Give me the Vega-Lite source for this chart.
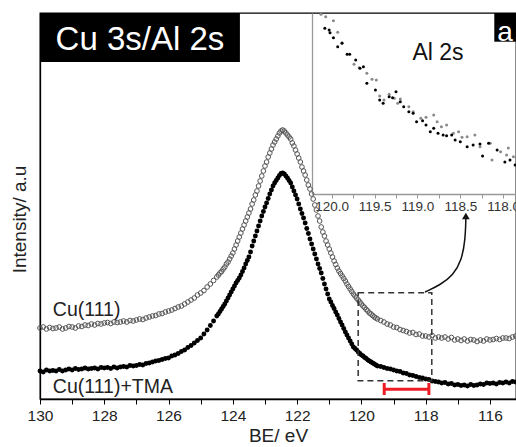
{
"$schema":"https://vega.github.io/schema/vega-lite/v6.json",
"width":476,"height":386,
"autosize":"none",
"padding":{"left":40,"top":13,"right":0,"bottom":48},
"background":"white",
"config":{"font":"Liberation Sans","view":{"stroke":"#000","strokeWidth":1.3},"axis":{"grid":false}},
"datasets":{
"cu":[{"x":130.0,"y":71},{"x":129.9,"y":72},{"x":129.8,"y":70},{"x":129.7,"y":71.5},{"x":129.6,"y":70.5},{"x":129.5,"y":71},{"x":129.4,"y":72},{"x":129.3,"y":70},{"x":129.2,"y":71},{"x":129.1,"y":72.5},{"x":129.0,"y":72},{"x":128.9,"y":71},{"x":128.8,"y":73},{"x":128.7,"y":72.5},{"x":128.6,"y":74},{"x":128.5,"y":73.5},{"x":128.4,"y":75},{"x":128.3,"y":74},{"x":128.2,"y":75.5},{"x":128.1,"y":75},{"x":128.0,"y":76},{"x":127.9,"y":76.5},{"x":127.8,"y":75.5},{"x":127.7,"y":77},{"x":127.6,"y":76.5},{"x":127.5,"y":77},{"x":127.4,"y":78},{"x":127.3,"y":77},{"x":127.2,"y":78.5},{"x":127.1,"y":78},{"x":127.0,"y":79},{"x":126.9,"y":80},{"x":126.8,"y":79.5},{"x":126.7,"y":81},{"x":126.6,"y":82},{"x":126.5,"y":83},{"x":126.4,"y":83.5},{"x":126.3,"y":85},{"x":126.2,"y":85.5},{"x":126.1,"y":87},{"x":126.0,"y":88},{"x":125.9,"y":89},{"x":125.8,"y":90.5},{"x":125.7,"y":92},{"x":125.6,"y":93},{"x":125.5,"y":95},{"x":125.4,"y":97},{"x":125.3,"y":99},{"x":125.2,"y":101},{"x":125.1,"y":104},{"x":125.0,"y":106},{"x":124.9,"y":108.5},{"x":124.8,"y":112},{"x":124.7,"y":115},{"x":124.6,"y":118.5},
{"x":124.5,"y":122},{"x":124.45,"y":124},{"x":124.4,"y":126},{"x":124.35,"y":127.5},{"x":124.3,"y":130},{"x":124.25,"y":132},{"x":124.2,"y":135},{"x":124.15,"y":137},{"x":124.1,"y":140},{"x":124.05,"y":143},{"x":124.0,"y":146},{"x":123.95,"y":150},{"x":123.9,"y":154},{"x":123.85,"y":158},{"x":123.8,"y":162},{"x":123.75,"y":166},{"x":123.7,"y":170},{"x":123.65,"y":174},{"x":123.6,"y":178},{"x":123.55,"y":182},{"x":123.5,"y":186},{"x":123.45,"y":190},{"x":123.4,"y":195},{"x":123.35,"y":199},{"x":123.3,"y":204},{"x":123.25,"y":208},{"x":123.2,"y":213},{"x":123.15,"y":218},{"x":123.1,"y":223},{"x":123.05,"y":228},{"x":123.0,"y":233},{"x":122.95,"y":237},{"x":122.9,"y":242},{"x":122.85,"y":246},{"x":122.8,"y":250},{"x":122.75,"y":254},{"x":122.7,"y":257},{"x":122.65,"y":260},{"x":122.6,"y":263},{"x":122.55,"y":266},{"x":122.5,"y":268},{"x":122.45,"y":269},{"x":122.4,"y":268},{"x":122.35,"y":266},{"x":122.3,"y":264},{"x":122.25,"y":262},{"x":122.2,"y":260},{"x":122.15,"y":256},{"x":122.1,"y":253},{"x":122.05,"y":249},{"x":122.0,"y":245},{"x":121.95,"y":241},{"x":121.9,"y":237},{"x":121.85,"y":232},{"x":121.8,"y":228},{"x":121.75,"y":224},{"x":121.7,"y":219},{"x":121.65,"y":214},{"x":121.6,"y":210},{"x":121.55,"y":205},{"x":121.5,"y":200},{"x":121.45,"y":194},{"x":121.4,"y":189},{"x":121.35,"y":183},{"x":121.3,"y":178},{"x":121.25,"y":172},{"x":121.2,"y":167},{"x":121.15,"y":163},{"x":121.1,"y":158},{"x":121.05,"y":154},{"x":121.0,"y":150},{"x":120.95,"y":146},{"x":120.9,"y":142},{"x":120.85,"y":138},{"x":120.8,"y":134.5},{"x":120.75,"y":131},{"x":120.7,"y":128},{"x":120.65,"y":125.5},{"x":120.6,"y":123},{"x":120.55,"y":120.5},{"x":120.5,"y":118},{"x":120.45,"y":115},{"x":120.4,"y":112.5},{"x":120.35,"y":110},{"x":120.3,"y":107.5},{"x":120.25,"y":105},{"x":120.2,"y":103},{"x":120.15,"y":101},{"x":120.1,"y":99},{"x":120.05,"y":97},{"x":120.0,"y":95},{"x":119.95,"y":93},{"x":119.9,"y":91.5},{"x":119.85,"y":89.5},{"x":119.8,"y":88},{"x":119.75,"y":86},{"x":119.7,"y":85},{"x":119.65,"y":83.5},{"x":119.6,"y":82},{"x":119.55,"y":81},
{"x":119.5,"y":80},{"x":119.4,"y":78.5},{"x":119.3,"y":77},{"x":119.2,"y":75},{"x":119.1,"y":74},{"x":119.0,"y":72},{"x":118.9,"y":71.5},{"x":118.8,"y":69.5},{"x":118.7,"y":68.5},{"x":118.6,"y":67.5},{"x":118.5,"y":66},{"x":118.4,"y":66.5},{"x":118.3,"y":64.5},{"x":118.2,"y":65},{"x":118.1,"y":63},{"x":118.0,"y":63},{"x":117.9,"y":62},{"x":117.8,"y":63.5},{"x":117.7,"y":61},{"x":117.6,"y":62},{"x":117.5,"y":61},{"x":117.4,"y":62},{"x":117.3,"y":60},{"x":117.2,"y":61.5},{"x":117.1,"y":59},{"x":117.0,"y":60},{"x":116.9,"y":58.5},{"x":116.8,"y":60},{"x":116.7,"y":58},{"x":116.6,"y":59.5},{"x":116.5,"y":59},{"x":116.4,"y":57.5},{"x":116.3,"y":59},{"x":116.2,"y":58},{"x":116.1,"y":60},{"x":116.0,"y":59},{"x":115.9,"y":59.5},{"x":115.8,"y":60.5},{"x":115.7,"y":59.5},{"x":115.6,"y":61},{"x":115.5,"y":61},{"x":115.4,"y":60.5},{"x":115.3,"y":62},{"x":115.2,"y":63}],
"tma":[{"x":130.0,"y":28},{"x":129.9,"y":27},{"x":129.8,"y":29},{"x":129.7,"y":28},{"x":129.6,"y":28.5},{"x":129.5,"y":28},{"x":129.4,"y":29.5},{"x":129.3,"y":28},{"x":129.2,"y":29},{"x":129.1,"y":30},{"x":129.0,"y":29},{"x":128.9,"y":30.5},{"x":128.8,"y":29.5},{"x":128.7,"y":30},{"x":128.6,"y":31},{"x":128.5,"y":30},{"x":128.4,"y":30.5},{"x":128.3,"y":31},{"x":128.2,"y":30},{"x":128.1,"y":31.5},{"x":128.0,"y":31},{"x":127.9,"y":31.5},{"x":127.8,"y":30.5},{"x":127.7,"y":32},{"x":127.6,"y":31},{"x":127.5,"y":32},{"x":127.4,"y":32.5},{"x":127.3,"y":32},{"x":127.2,"y":33.5},{"x":127.1,"y":33},{"x":127.0,"y":33.5},{"x":126.9,"y":34.5},{"x":126.8,"y":34},{"x":126.7,"y":35.5},{"x":126.6,"y":36},{"x":126.5,"y":37},{"x":126.4,"y":38},{"x":126.3,"y":38.5},{"x":126.2,"y":39.5},{"x":126.1,"y":40.5},{"x":126.0,"y":41},{"x":125.9,"y":43},{"x":125.8,"y":44},{"x":125.7,"y":45.5},{"x":125.6,"y":47.5},{"x":125.5,"y":49},{"x":125.4,"y":51.5},{"x":125.3,"y":53.5},{"x":125.2,"y":56},{"x":125.1,"y":58.5},{"x":125.0,"y":61},{"x":124.9,"y":65},{"x":124.8,"y":69},{"x":124.7,"y":73.5},{"x":124.6,"y":78},
{"x":124.5,"y":83},{"x":124.45,"y":85},{"x":124.4,"y":87.5},{"x":124.35,"y":90},{"x":124.3,"y":92.5},{"x":124.25,"y":95},{"x":124.2,"y":98},{"x":124.15,"y":101},{"x":124.1,"y":104},{"x":124.05,"y":107},{"x":124.0,"y":110},{"x":123.95,"y":113},{"x":123.9,"y":116},{"x":123.85,"y":118.5},{"x":123.8,"y":121},{"x":123.75,"y":124},{"x":123.7,"y":127.5},{"x":123.65,"y":131},{"x":123.6,"y":135},{"x":123.55,"y":138.5},{"x":123.5,"y":142},{"x":123.45,"y":147},{"x":123.4,"y":153},{"x":123.35,"y":158},{"x":123.3,"y":163},{"x":123.25,"y":168},{"x":123.2,"y":173},{"x":123.15,"y":178},{"x":123.1,"y":183},{"x":123.05,"y":187.5},{"x":123.0,"y":192},{"x":122.95,"y":196},{"x":122.9,"y":200.5},{"x":122.85,"y":205},{"x":122.8,"y":209},{"x":122.75,"y":213},{"x":122.7,"y":216},{"x":122.65,"y":218.5},{"x":122.6,"y":221},{"x":122.55,"y":223.5},{"x":122.5,"y":225.5},{"x":122.45,"y":226},{"x":122.4,"y":225},{"x":122.35,"y":223},{"x":122.3,"y":221},{"x":122.25,"y":218.5},{"x":122.2,"y":216},{"x":122.15,"y":212},{"x":122.1,"y":208},{"x":122.05,"y":204},{"x":122.0,"y":200},{"x":121.95,"y":195},{"x":121.9,"y":190},{"x":121.85,"y":185.5},{"x":121.8,"y":181},{"x":121.75,"y":176},{"x":121.7,"y":170.5},{"x":121.65,"y":165.5},{"x":121.6,"y":160},{"x":121.55,"y":155},{"x":121.5,"y":150},{"x":121.45,"y":145},{"x":121.4,"y":140},{"x":121.35,"y":135},{"x":121.3,"y":130.5},{"x":121.25,"y":126},{"x":121.2,"y":120.5},{"x":121.15,"y":115},{"x":121.1,"y":110},{"x":121.05,"y":105},{"x":121.0,"y":100},{"x":120.95,"y":97},{"x":120.9,"y":93.5},{"x":120.85,"y":90.5},{"x":120.8,"y":87},{"x":120.75,"y":84},{"x":120.7,"y":80.5},{"x":120.65,"y":77},{"x":120.6,"y":74},{"x":120.55,"y":70.5},{"x":120.5,"y":67},{"x":120.45,"y":64},{"x":120.4,"y":61},{"x":120.35,"y":58},{"x":120.3,"y":55},{"x":120.25,"y":52},{"x":120.2,"y":50.5},{"x":120.15,"y":49},{"x":120.1,"y":47},{"x":120.05,"y":45.5},{"x":120.0,"y":44},{"x":119.95,"y":43},{"x":119.9,"y":41.5},{"x":119.85,"y":40.5},{"x":119.8,"y":39},{"x":119.75,"y":38},{"x":119.7,"y":37},{"x":119.65,"y":36},{"x":119.6,"y":35},{"x":119.55,"y":34},
{"x":119.5,"y":33},{"x":119.4,"y":32.5},{"x":119.3,"y":31.5},{"x":119.2,"y":30.5},{"x":119.1,"y":30},{"x":119.0,"y":29},{"x":118.9,"y":28},{"x":118.8,"y":27.5},{"x":118.7,"y":26},{"x":118.6,"y":25.5},{"x":118.5,"y":24},{"x":118.4,"y":23.5},{"x":118.3,"y":22.5},{"x":118.2,"y":21.5},{"x":118.1,"y":21},{"x":118.0,"y":20},{"x":117.9,"y":19.5},{"x":117.8,"y":18},{"x":117.7,"y":17.5},{"x":117.6,"y":17},{"x":117.5,"y":16},{"x":117.4,"y":16.5},{"x":117.3,"y":15},{"x":117.2,"y":15.5},{"x":117.1,"y":14},{"x":117.0,"y":14.5},{"x":116.9,"y":13.5},{"x":116.8,"y":14},{"x":116.7,"y":13},{"x":116.6,"y":14.5},{"x":116.5,"y":13.5},{"x":116.4,"y":14},{"x":116.3,"y":15},{"x":116.2,"y":14.5},{"x":116.1,"y":16},{"x":116.0,"y":15.5},{"x":115.9,"y":16},{"x":115.8,"y":15},{"x":115.7,"y":16.5},{"x":115.6,"y":16},{"x":115.5,"y":17},{"x":115.4,"y":16},{"x":115.3,"y":17.5},{"x":115.2,"y":17}],
"inset":[{"s":"cu","x":120.125,"y":179.7},{"s":"cu","x":120.07,"y":177.3},{"s":"cu","x":119.98,"y":173.3},{"s":"cu","x":119.93,"y":161.7},{"s":"cu","x":119.88,"y":151.3},{"s":"cu","x":119.74,"y":129.7},{"s":"cu","x":119.68,"y":126.3},{"s":"cu","x":119.59,"y":120.7},{"s":"cu","x":119.53,"y":114.7},{"s":"cu","x":119.48,"y":114},{"s":"cu","x":119.44,"y":98},{"s":"cu","x":119.39,"y":94},{"s":"cu","x":119.33,"y":99.7},{"s":"cu","x":119.27,"y":95.7},{"s":"cu","x":119.23,"y":90.7},{"s":"cu","x":119.2,"y":95},{"s":"cu","x":119.1,"y":87.3},{"s":"cu","x":119.05,"y":82.3},{"s":"cu","x":118.96,"y":75.7},{"s":"cu","x":118.9,"y":76.7},{"s":"cu","x":118.81,"y":79},{"s":"cu","x":118.77,"y":72.3},{"s":"cu","x":118.72,"y":67.3},{"s":"cu","x":118.66,"y":69},{"s":"cu","x":118.58,"y":60.7},{"s":"cu","x":118.52,"y":62.3},{"s":"cu","x":118.48,"y":56.7},{"s":"cu","x":118.42,"y":57.3},{"s":"cu","x":118.33,"y":59},{"s":"cu","x":118.27,"y":47.3},{"s":"cu","x":118.15,"y":50.7},{"s":"cu","x":118.13,"y":34},{"s":"cu","x":118.03,"y":42.3},{"s":"cu","x":117.94,"y":46},{"s":"cu","x":117.96,"y":39},{"s":"cu","x":117.88,"y":37.3},
{"s":"tma","x":120.08,"y":165.7},{"s":"tma","x":120.03,"y":164},{"s":"tma","x":120.02,"y":161.3},{"s":"tma","x":119.98,"y":156.3},{"s":"tma","x":119.93,"y":147.3},{"s":"tma","x":119.88,"y":150.7},{"s":"tma","x":119.82,"y":139.7},{"s":"tma","x":119.79,"y":139.7},{"s":"tma","x":119.72,"y":134},{"s":"tma","x":119.67,"y":125.7},{"s":"tma","x":119.63,"y":127.3},{"s":"tma","x":119.59,"y":110.7},{"s":"tma","x":119.49,"y":104},{"s":"tma","x":119.44,"y":94},{"s":"tma","x":119.4,"y":90.7},{"s":"tma","x":119.33,"y":97.3},{"s":"tma","x":119.29,"y":96.3},{"s":"tma","x":119.25,"y":102.3},{"s":"tma","x":119.2,"y":92.3},{"s":"tma","x":119.16,"y":87.3},{"s":"tma","x":119.1,"y":82.3},{"s":"tma","x":119.05,"y":80.7},{"s":"tma","x":119.01,"y":72.3},{"s":"tma","x":118.94,"y":73.3},{"s":"tma","x":118.9,"y":69},{"s":"tma","x":118.85,"y":62.3},{"s":"tma","x":118.81,"y":65.7},{"s":"tma","x":118.76,"y":60.7},{"s":"tma","x":118.7,"y":59},{"s":"tma","x":118.66,"y":58.3},{"s":"tma","x":118.6,"y":59},{"s":"tma","x":118.56,"y":54},{"s":"tma","x":118.5,"y":52.3},{"s":"tma","x":118.42,"y":47.3},{"s":"tma","x":118.35,"y":49},{"s":"tma","x":118.27,"y":50},{"s":"tma","x":118.24,"y":38},{"s":"tma","x":118.17,"y":50.7},{"s":"tma","x":118.07,"y":44},{"s":"tma","x":117.98,"y":32},{"s":"tma","x":117.92,"y":34},{"s":"tma","x":117.86,"y":29}],
"arrow":[{"o":1,"x":118.02,"y":107},{"o":2,"x":117.55,"y":114},{"o":3,"x":117.14,"y":124},{"o":4,"x":116.88,"y":139},{"o":5,"x":116.77,"y":159},{"o":6,"x":116.75,"y":180}],
"caps":[{"x":119.29},{"x":117.9}]
},
"layer":[
 {"data":{"name":"cu"},
  "mark":{"type":"point","shape":"circle","filled":false,"stroke":"#555","strokeWidth":1,"size":22,"opacity":1},
  "encoding":{
   "x":{"field":"x","type":"quantitative","scale":{"domain":[115.19,130],"reverse":true,"nice":false,"zero":false},
        "axis":{"orient":"bottom","title":"BE/ eV","values":[130,129,128,127,126,125,124,123,122,121,120,119,118,117,116],"labelExpr":"datum.value % 2 == 0 ? datum.label : ''","labelOverlap":false,"labelFlush":false,"labelFontSize":15.5,"labelColor":"#222","labelPadding":4,"tickSize":5,"tickColor":"#000","domainColor":"#000","domainWidth":1.3,"titleFontSize":19,"titleFontWeight":"normal","titleColor":"#222","titlePadding":3}},
   "y":{"field":"y","type":"quantitative","scale":{"domain":[0,386],"nice":false,"zero":false},
        "axis":{"orient":"left","title":"Intensity/ a.u","ticks":false,"labels":false,"domainColor":"#000","domainWidth":1.3,"titleFontSize":19,"titleFontWeight":"normal","titleColor":"#222","titlePadding":11,"titleY":206}}
  }},
 {"data":{"name":"tma"},
  "mark":{"type":"circle","color":"#000","size":24,"opacity":1},
  "encoding":{"x":{"field":"x","type":"quantitative","scale":{"domain":[115.19,130],"reverse":true,"nice":false,"zero":false},"axis":null},"y":{"field":"y","type":"quantitative","scale":{"domain":[0,386],"nice":false,"zero":false},"axis":null}}},
 {"data":{"values":[{}]},
  "mark":{"type":"rect","fillOpacity":0,"stroke":"#333","strokeDash":[6,4],"strokeWidth":1.5},
  "encoding":{"x":{"datum":120.1,"type":"quantitative","scale":{"domain":[115.19,130],"reverse":true,"nice":false,"zero":false},"axis":null},"x2":{"datum":117.81},"y":{"datum":106.3,"type":"quantitative","scale":{"domain":[0,386],"nice":false,"zero":false},"axis":null},"y2":{"datum":18.3}}},
 {"data":{"values":[{}]},
  "mark":{"type":"rule","color":"#ed1c24","strokeWidth":3},
  "encoding":{"x":{"datum":119.29,"type":"quantitative","scale":{"domain":[115.19,130],"reverse":true,"nice":false,"zero":false},"axis":null},"x2":{"datum":117.9},"y":{"datum":9.7,"type":"quantitative","scale":{"domain":[0,386],"nice":false,"zero":false},"axis":null}}},
 {"data":{"name":"caps"},
  "mark":{"type":"rule","color":"#ed1c24","strokeWidth":3},
  "encoding":{"x":{"field":"x","type":"quantitative","scale":{"domain":[115.19,130],"reverse":true,"nice":false,"zero":false},"axis":null},"y":{"datum":4,"type":"quantitative","scale":{"domain":[0,386],"nice":false,"zero":false},"axis":null},"y2":{"datum":16}}},
 {"data":{"name":"arrow"},
  "mark":{"type":"line","interpolate":"basis","color":"#111","strokeWidth":1.5},
  "encoding":{"x":{"field":"x","type":"quantitative","scale":{"domain":[115.19,130],"reverse":true,"nice":false,"zero":false},"axis":null},"y":{"field":"y","type":"quantitative","scale":{"domain":[0,386],"nice":false,"zero":false},"axis":null},"order":{"field":"o"}}},
 {"data":{"values":[{}]},
  "mark":{"type":"point","shape":"triangle-up","filled":true,"color":"#111","size":60,"opacity":1},
  "encoding":{"x":{"datum":116.75,"type":"quantitative","scale":{"domain":[115.19,130],"reverse":true,"nice":false,"zero":false},"axis":null},"y":{"datum":183,"type":"quantitative","scale":{"domain":[0,386],"nice":false,"zero":false},"axis":null}}},
 {"data":{"values":[{}]},
  "mark":{"type":"rect","color":"#000"},
  "encoding":{"x":{"datum":130,"type":"quantitative","scale":{"domain":[115.19,130],"reverse":true,"nice":false,"zero":false},"axis":null},"x2":{"datum":123.78},"y":{"datum":386,"type":"quantitative","scale":{"domain":[0,386],"nice":false,"zero":false},"axis":null},"y2":{"datum":337}}},
 {"data":{"values":[{}]},
  "mark":{"type":"text","text":"Cu 3s/Al 2s","fontSize":33,"color":"#fff","align":"center","baseline":"alphabetic"},
  "encoding":{"x":{"datum":126.89,"type":"quantitative","scale":{"domain":[115.19,130],"reverse":true,"nice":false,"zero":false},"axis":null},"y":{"datum":349,"type":"quantitative","scale":{"domain":[0,386],"nice":false,"zero":false},"axis":null}}},
 {"data":{"values":[{}]},
  "mark":{"type":"rect","color":"#000"},
  "encoding":{"x":{"datum":115.865,"type":"quantitative","scale":{"domain":[115.19,130],"reverse":true,"nice":false,"zero":false},"axis":null},"x2":{"datum":115.19},"y":{"datum":386,"type":"quantitative","scale":{"domain":[0,386],"nice":false,"zero":false},"axis":null},"y2":{"datum":357.3}}},
 {"data":{"values":[{}]},
  "mark":{"type":"text","text":"a","fontSize":28,"color":"#fff","align":"center","baseline":"alphabetic"},
  "encoding":{"x":{"datum":115.53,"type":"quantitative","scale":{"domain":[115.19,130],"reverse":true,"nice":false,"zero":false},"axis":null},"y":{"datum":358.5,"type":"quantitative","scale":{"domain":[0,386],"nice":false,"zero":false},"axis":null}}},
 {"data":{"values":[{}]},
  "mark":{"type":"text","text":"Cu(111)","fontSize":19.5,"color":"#222","align":"left","baseline":"alphabetic"},
  "encoding":{"x":{"datum":129.6,"type":"quantitative","scale":{"domain":[115.19,130],"reverse":true,"nice":false,"zero":false},"axis":null},"y":{"datum":83,"type":"quantitative","scale":{"domain":[0,386],"nice":false,"zero":false},"axis":null}}},
 {"data":{"values":[{}]},
  "mark":{"type":"text","text":"Cu(111)+TMA","fontSize":19.5,"color":"#222","align":"left","baseline":"alphabetic"},
  "encoding":{"x":{"datum":129.6,"type":"quantitative","scale":{"domain":[115.19,130],"reverse":true,"nice":false,"zero":false},"axis":null},"y":{"datum":5.7,"type":"quantitative","scale":{"domain":[0,386],"nice":false,"zero":false},"axis":null}}},
 {"data":{"name":"inset"},
  "mark":{"type":"circle","size":9,"opacity":1},
  "encoding":{
   "x":{"field":"x","type":"quantitative","scale":{"domain":[117.85,120.23],"range":[476,272],"nice":false,"zero":false},
        "axis":{"orient":"bottom","offset":-205,"title":null,"values":[120,119.75,119.5,119.25,119,118.75,118.5,118.25,118],"labelExpr":"round(datum.value*4) % 2 == 0 ? format(datum.value, '.1f') : ''","labelOverlap":false,"labelFlush":false,"labelFontSize":13.5,"labelColor":"#333","labelPadding":1,"tickSize":4,"tickColor":"#999","domainColor":"#999","domainWidth":1.3}},
   "y":{"field":"y","type":"quantitative","scale":{"domain":[0,181],"range":[181,0],"nice":false,"zero":false},
        "axis":{"orient":"left","offset":-272,"title":null,"ticks":false,"labels":false,"domainColor":"#999","domainWidth":1.3}},
   "color":{"field":"s","type":"nominal","scale":{"domain":["cu","tma"],"range":["#8a8a8a","#000"]},"legend":null}
  }},
 {"data":{"values":[{}]},
  "mark":{"type":"text","text":"Al 2s","fontSize":23,"color":"#111","align":"center","baseline":"alphabetic"},
  "encoding":{"x":{"datum":118.76,"type":"quantitative","scale":{"domain":[117.85,120.23],"range":[476,272],"nice":false,"zero":false},"axis":null},"y":{"datum":134,"type":"quantitative","scale":{"domain":[0,181],"range":[181,0],"nice":false,"zero":false},"axis":null}}}
],
"resolve":{"scale":{"x":"independent","y":"independent"},"axis":{"x":"independent","y":"independent"}}
}
